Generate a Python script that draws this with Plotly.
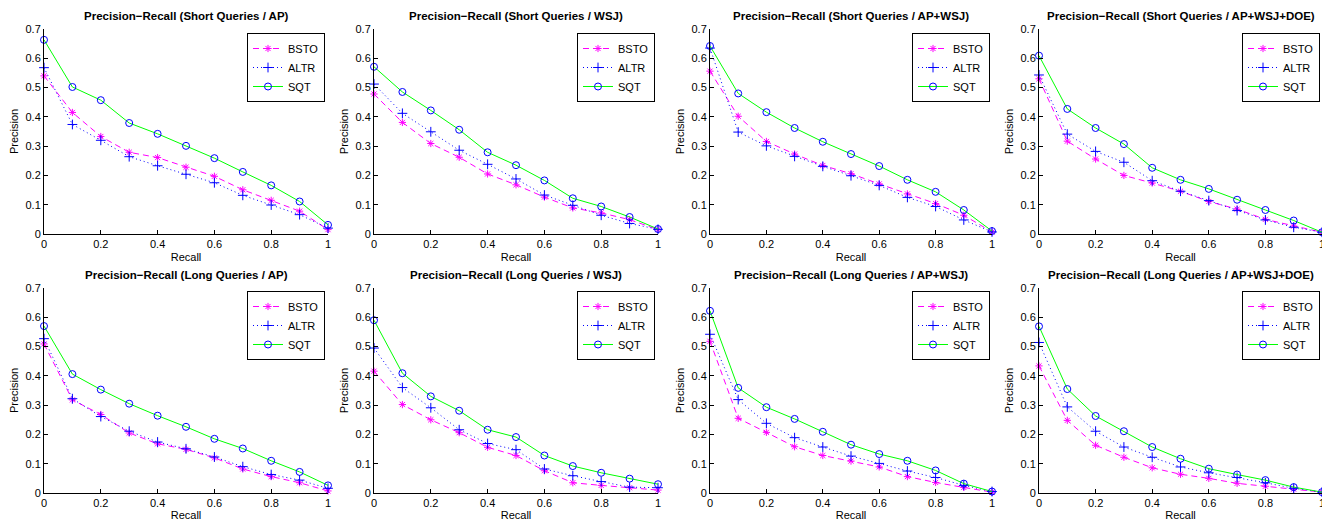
import plotly.graph_objects as go

recall = [0, 0.1, 0.2, 0.3, 0.4, 0.5, 0.6, 0.7, 0.8, 0.9, 1.0]

# short queries
bsto_short_ap = [0.540, 0.415, 0.333, 0.279, 0.261, 0.228, 0.197, 0.151, 0.115, 0.078, 0.015]
altr_short_ap = [0.568, 0.374, 0.320, 0.264, 0.233, 0.204, 0.175, 0.132, 0.099, 0.066, 0.020]
sqt_short_ap = [0.663, 0.502, 0.457, 0.379, 0.342, 0.301, 0.259, 0.212, 0.166, 0.111, 0.031]

bsto_short_wsj = [0.478, 0.381, 0.309, 0.262, 0.205, 0.168, 0.126, 0.089, 0.072, 0.049, 0.015]
altr_short_wsj = [0.512, 0.412, 0.349, 0.286, 0.238, 0.188, 0.133, 0.098, 0.064, 0.036, 0.016]
sqt_short_wsj = [0.571, 0.485, 0.422, 0.356, 0.279, 0.235, 0.183, 0.122, 0.094, 0.058, 0.017]

bsto_short_apwsj = [0.556, 0.402, 0.316, 0.273, 0.234, 0.206, 0.171, 0.137, 0.104, 0.064, 0.007]
altr_short_apwsj = [0.635, 0.348, 0.301, 0.265, 0.231, 0.199, 0.166, 0.125, 0.094, 0.048, 0.007]
sqt_short_apwsj = [0.642, 0.480, 0.416, 0.362, 0.315, 0.273, 0.232, 0.185, 0.144, 0.082, 0.010]

bsto_short_doe = [0.530, 0.317, 0.256, 0.200, 0.174, 0.146, 0.111, 0.085, 0.050, 0.027, 0.006]
altr_short_doe = [0.543, 0.341, 0.282, 0.245, 0.182, 0.146, 0.114, 0.080, 0.048, 0.023, 0.006]
sqt_short_doe = [0.609, 0.427, 0.362, 0.307, 0.226, 0.185, 0.154, 0.117, 0.082, 0.046, 0.006]

# long queries
bsto_long_ap = [0.509, 0.318, 0.268, 0.205, 0.168, 0.149, 0.120, 0.082, 0.056, 0.035, 0.007]
altr_long_ap = [0.527, 0.322, 0.261, 0.211, 0.174, 0.151, 0.123, 0.090, 0.063, 0.044, 0.016]
sqt_long_ap = [0.570, 0.406, 0.353, 0.305, 0.264, 0.226, 0.185, 0.152, 0.110, 0.072, 0.026]

bsto_long_wsj = [0.416, 0.302, 0.250, 0.206, 0.156, 0.128, 0.076, 0.035, 0.026, 0.018, 0.010]
altr_long_wsj = [0.495, 0.360, 0.291, 0.216, 0.169, 0.148, 0.082, 0.059, 0.039, 0.020, 0.018]
sqt_long_wsj = [0.590, 0.409, 0.330, 0.281, 0.216, 0.191, 0.128, 0.092, 0.069, 0.049, 0.030]

bsto_long_apwsj = [0.518, 0.255, 0.207, 0.158, 0.128, 0.109, 0.089, 0.056, 0.036, 0.019, 0.003]
altr_long_apwsj = [0.542, 0.319, 0.238, 0.189, 0.157, 0.126, 0.101, 0.075, 0.053, 0.026, 0.005]
sqt_long_apwsj = [0.622, 0.359, 0.293, 0.253, 0.209, 0.165, 0.133, 0.110, 0.077, 0.032, 0.005]

bsto_long_doe = [0.434, 0.248, 0.163, 0.122, 0.086, 0.064, 0.050, 0.033, 0.023, 0.013, 0.003]
altr_long_doe = [0.514, 0.294, 0.211, 0.157, 0.122, 0.089, 0.069, 0.053, 0.035, 0.016, 0.003]
sqt_long_doe = [0.569, 0.355, 0.263, 0.211, 0.157, 0.117, 0.083, 0.063, 0.044, 0.020, 0.003]

titles = [
    "Precision\u2212Recall (Short Queries / AP)",
    "Precision\u2212Recall (Short Queries / WSJ)",
    "Precision\u2212Recall (Short Queries / AP+WSJ)",
    "Precision\u2212Recall (Short Queries / AP+WSJ+DOE)",
    "Precision\u2212Recall (Long Queries / AP)",
    "Precision\u2212Recall (Long Queries / WSJ)",
    "Precision\u2212Recall (Long Queries / AP+WSJ)",
    "Precision\u2212Recall (Long Queries / AP+WSJ+DOE)",
]
panels = [
    (bsto_short_ap, altr_short_ap, sqt_short_ap),
    (bsto_short_wsj, altr_short_wsj, sqt_short_wsj),
    (bsto_short_apwsj, altr_short_apwsj, sqt_short_apwsj),
    (bsto_short_doe, altr_short_doe, sqt_short_doe),
    (bsto_long_ap, altr_long_ap, sqt_long_ap),
    (bsto_long_wsj, altr_long_wsj, sqt_long_wsj),
    (bsto_long_apwsj, altr_long_apwsj, sqt_long_apwsj),
    (bsto_long_doe, altr_long_doe, sqt_long_doe),
]

# page body has an 8px margin, so the figure is shrunk by it and
# window pixel positions are shifted back by OFF
OFF = 8
W, H = 1330 - OFF, 521 - OFF
FONT = "Liberation Sans, Arial, Helvetica, sans-serif"


def px_x(p):
    return (p - OFF) / W


def px_y(p):
    return 1 - (p - OFF) / H


# window pixel boxes of the plot areas (left, right) and (top, bottom)
xcols = [(44, 328), (374, 658), (710, 992), (1039, 1322)]
yrows = [(29, 234), (288, 493)]
legx = [247, 577, 912, 1242]
legy = [33, 291]

fig = go.Figure()
layout = dict(
    width=W, height=H, margin=dict(l=0, r=0, t=0, b=0),
    paper_bgcolor="white", plot_bgcolor="white",
    font=dict(family=FONT, size=11, color="black"),
    annotations=[],
)

for i, (bsto, altr, sqt) in enumerate(panels):
    r, c = divmod(i, 4)
    n = i + 1
    xa = "x" if n == 1 else "x%d" % n
    ya = "y" if n == 1 else "y%d" % n
    lg = "legend" if n == 1 else "legend%d" % n
    x0, x1 = xcols[c]
    y0, y1 = yrows[r]

    fig.add_trace(go.Scatter(
        x=recall, y=bsto, name="BSTO", xaxis=xa, yaxis=ya, legend=lg,
        mode="lines+markers", cliponaxis=False,
        line=dict(color="#ff00ff", width=1, dash="6px,4px"),
        marker=dict(symbol="asterisk-open", size=6, color="#ff00ff",
                    line=dict(color="#ff00ff", width=1))))
    fig.add_trace(go.Scatter(
        x=recall, y=altr, name="ALTR", xaxis=xa, yaxis=ya, legend=lg,
        mode="lines+markers", cliponaxis=False,
        line=dict(color="#0000ff", width=1, dash="1px,3px"),
        marker=dict(symbol="cross-thin-open", size=7, color="#0000ff",
                    line=dict(color="#0000ff", width=1))))
    fig.add_trace(go.Scatter(
        x=recall, y=sqt, name="SQT", xaxis=xa, yaxis=ya, legend=lg,
        mode="lines+markers", cliponaxis=False,
        line=dict(color="#00ff00", width=1),
        marker=dict(symbol="circle-open", size=7, color="#0000ff",
                    line=dict(color="#0000ff", width=1))))

    axis_common = dict(showgrid=False, zeroline=False, showline=True,
                       linecolor="black", linewidth=1, mirror=False,
                       ticks="inside", ticklen=4, tickcolor="black",
                       tickfont=dict(size=11), automargin=False)
    layout["xaxis" if n == 1 else "xaxis%d" % n] = dict(
        axis_common, domain=[px_x(x0), px_x(x1)], range=[0, 1],
        tickvals=[0, 0.2, 0.4, 0.6, 0.8, 1], ticktext=["0", "0.2", "0.4", "0.6", "0.8", "1"],
        anchor=ya, title=dict(text="Recall", font=dict(size=11), standoff=4))
    layout["yaxis" if n == 1 else "yaxis%d" % n] = dict(
        axis_common, domain=[px_y(y1), px_y(y0)], range=[0, 0.7],
        tickvals=[0, 0.1, 0.2, 0.3, 0.4, 0.5, 0.6, 0.7],
        ticktext=["0", "0.1", "0.2", "0.3", "0.4", "0.5", "0.6", "0.7"],
        anchor=xa, title=dict(text="Precision", font=dict(size=11), standoff=4))
    layout[lg] = dict(
        x=px_x(legx[c]), y=px_y(legy[r]), xanchor="left", yanchor="top",
        bgcolor="white", bordercolor="black", borderwidth=1,
        font=dict(size=11), itemwidth=30, tracegroupgap=0)
    layout["annotations"].append(dict(
        text="<b>%s</b>" % titles[i], x=px_x((x0 + x1) / 2), y=px_y(y0 - 13),
        xref="paper", yref="paper", showarrow=False, xanchor="center", yanchor="middle",
        font=dict(size=11.5)))

fig.update_layout(**layout)
fig.write_html("out.html")
